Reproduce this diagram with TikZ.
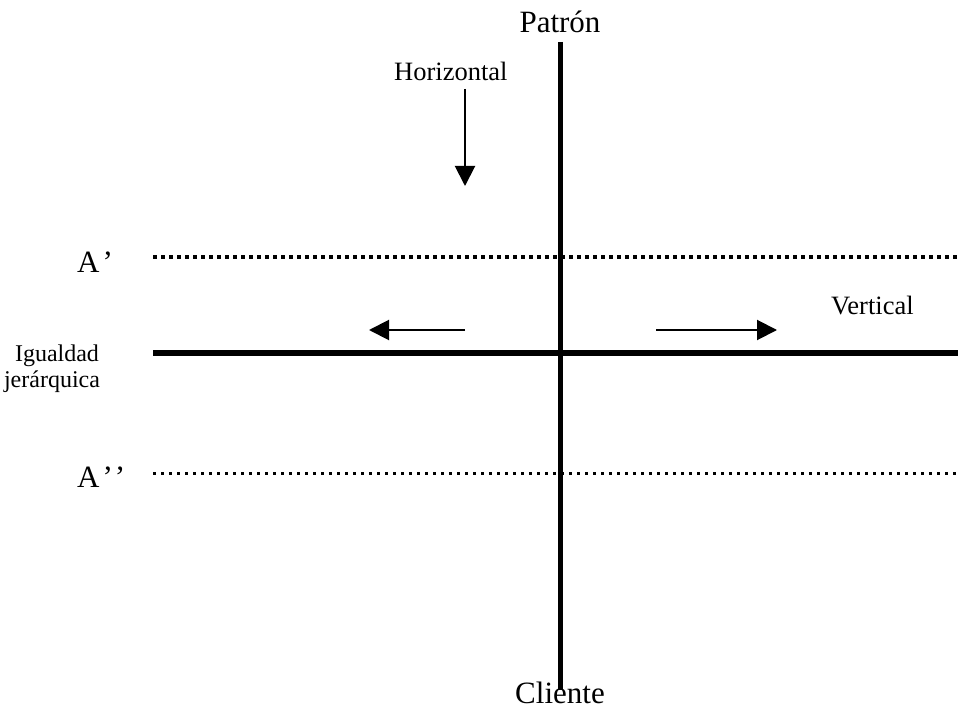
\documentclass[tikz,border=0pt]{standalone}
\usepackage{fontspec}
\setmainfont{Liberation Serif}
\usetikzlibrary{arrows.meta}
\begin{document}
\begin{tikzpicture}[x=1pt,y=-1pt,
  axis/.style={line width=5.5pt},
  dotline/.style={line width=3.5pt,dash pattern=on 4pt off 4pt},
  dotlinesm/.style={line width=3pt,dash pattern=on 3pt off 5pt},
  dir/.style={line width=2pt,-{Triangle[length=20pt,width=20pt]}},
  big/.style={inner sep=0pt,anchor=base,font=\fontsize{31}{36}\selectfont},
  mid/.style={inner sep=0pt,anchor=base,font=\fontsize{26.5}{30}\selectfont},
  small/.style={inner sep=0pt,anchor=base,font=\fontsize{24}{28}\selectfont}]
\useasboundingbox (0,0) rectangle (958,708);
% coordinates
\coordinate (vtop) at (560.5,42);
\coordinate (vbot) at (560.5,690);
\coordinate (hl) at (153,353);
\coordinate (hr) at (958,353);
\coordinate (a1l) at (153,257);
\coordinate (a1r) at (958,257);
\coordinate (a2l) at (153,473);
\coordinate (a2r) at (958,473);
\coordinate (dS) at (465,89);
\coordinate (dE) at (465,186);
\coordinate (lS) at (465,330);
\coordinate (lE) at (369,330);
\coordinate (rS) at (656,330);
\coordinate (rE) at (777,330);
% lines
\draw[axis] (vtop) -- (vbot);
\draw[axis] (hl) -- (hr);
\draw[dotline] (a1l) -- (a1r);
\draw[dotlinesm] (a2l) -- (a2r);
\draw[dir] (dS) -- (dE);
\draw[dir] (lS) -- (lE);
\draw[dir] (rS) -- (rE);
% labels
\node[big] (patron) at (560,33) {Patrón};
\node[big] (cliente) at (560,703) {Cliente};
\node[big,anchor=base west] (a1) at (77,273) {A\kern3pt’};
\node[big,anchor=base west] (a2) at (77,487) {A\kern3pt’\kern2pt’};
\node[mid,anchor=base west] (hor) at (394,81) {Horizontal};
\node[mid,anchor=base west] (ver) at (831,315) {Vertical};
\node[small] (ig) at (57,361) {Igualdad};
\node[small] (jer) at (52,388) {jerárquica};
\end{tikzpicture}
\end{document}
